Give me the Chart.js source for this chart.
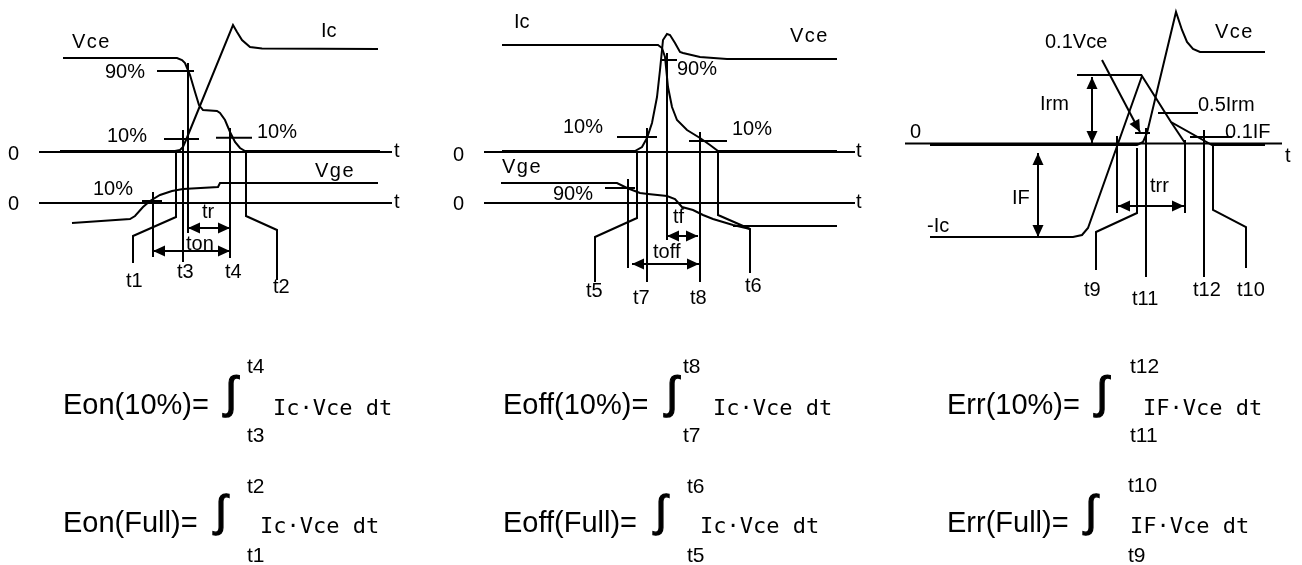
<!DOCTYPE html>
<html><head><meta charset="utf-8">
<script src="https://cdn.jsdelivr.net/npm/chart.js@4.4.1/dist/chart.umd.min.js"></script>
<style>html,body{margin:0;padding:0;background:#fff;}#wrap{width:1302px;height:565px;}</style>
</head><body><div id="wrap"><canvas id="c" width="1302" height="565"></canvas></div>
<script>
// ===== Panel 1 : turn-on waveforms =====
const onAxisTop = [[39,152],[392,152]];
const onAxisBot = [[39,203],[392,203]];
const onIc  = [[60,151],[175,151],[180,150],[183,147],[186,140],[233,25],[237,32],[242,40],[250,47],[262,48.5],[378,49]];
const onVce = [[63,58],[177,58],[182,60],[185,63],[190,75],[195,92],[199,105],[203,110],[217,111],[220,113],[225,120],[230,132],[235,142],[240,148],[245,151],[380,151]];
const onVge = [[72,223],[130,219],[135,216],[143,207],[150,201],[160,195],[172,191],[183,189],[218,187],[220,183],[378,183]];
const onMarks = [
  [[157,71],[194,71]], [[188,63],[188,233]],
  [[164,139],[199,139]], [[183,130],[183,262]],
  [[216,137.7],[252,137.7]], [[230,128],[230,258]],
  [[142,201],[162,201]], [[153,192],[153,257]],
  [[176,151],[176,217],[133,236],[133,263]],
  [[246,151],[246,216],[277,230],[277,280]]
];
// ===== Panel 2 : turn-off waveforms =====
const offAxisTop = [[484,152],[855,152]];
const offAxisBot = [[484,203],[855,203]];
const offIc  = [[502,45],[658,45],[662,48],[665,57],[668,87],[672,107],[677,120],[687,130],[700,138],[710,145],[718,151],[837,151]];
const offVce = [[502,151],[635,151],[642,147],[647,138],[652,123],[657,97],[660,70],[663,40],[667,34],[670,35],[675,43],[680,52],[683,53],[700,57],[727,59],[837,59]];
const offVge = [[501,183],[617,183],[627,188],[640,193],[648,194],[667,196],[675,199],[682,207],[693,210],[703,215],[713,219],[733,225],[750,229]];
const offVgeLow = [[733,226],[837,226]];
const offMarks = [
  [[662,60],[677,60]], [[667,53],[667,240]],
  [[617,137],[657,137]], [[647,128],[647,282]],
  [[689,141],[727,141]], [[700,132],[700,282]],
  [[605,188],[635,188]], [[628,179],[628,268]],
  [[637,152],[637,218],[595,237],[595,282]],
  [[718,152],[718,215],[750,229],[750,273]]
];
// ===== Panel 3 : diode reverse recovery =====
const rrAxis = [[905,143.5],[1282,143.5]];
const rrIF  = [[930,237],[1073,237],[1082,235],[1088,228],[1142,76],[1171,122],[1212,145],[1265,145]];
const rrExtrap = [[1171,122],[1185,143]];
const rrVce = [[930,145],[1137,145],[1143,142],[1147,133],[1176,12],[1182,30],[1187,42],[1193,49],[1200,52],[1265,52]];
const rrMarks = [
  [[1077,75],[1142,75]],
  [[1135,133],[1150,133]], [[1146,128],[1146,277]],
  [[1158,113],[1198,113]],
  [[1190,137],[1232,137]], [[1204,130],[1204,277]],
  [[1117,136],[1117,213]], [[1185,140],[1185,213]],
  [[1137,148],[1137,213],[1096,232],[1096,270]],
  [[1213,145],[1213,210],[1246,227],[1246,268]]
];
// arrows: x1,y1,x2,y2,doubleHeaded
const arrows = [
  [188,228,230,228,1],[153,251,230,251,1],
  [667,236,698,236,1],[632,264,699,264,1],
  [1092,77,1092,143,1],[1038,153,1038,237,1],[1118,206,1184,206,1],
  [1102,60,1140,132,0]
];
// diagram labels
const labels = [
  ["Vce",72,48],["Ic",321,37],["90%",105,78],["10%",107,142],["10%",257,138],
  ["0",8,160],["0",8,210],["t",394,157],["t",394,208],["Vge",315,177],["10%",93,195],
  ["tr",202,218],["ton",186,250],["t1",126,287],["t3",177,278],["t4",225,278],["t2",273,293],
  ["Ic",514,28],["Vce",790,42],["90%",677,75],["10%",563,133],["10%",732,135],
  ["0",453,161],["0",453,210],["t",856,157],["t",856,208],["Vge",502,173],["90%",553,200],
  ["tf",673,223],["toff",653,258],["t5",586,297],["t7",633,304],["t8",690,304],["t6",745,292],
  ["Vce",1215,38],["0.1Vce",1045,48],["Irm",1040,110],["0.5Irm",1198,111],["0.1IF",1225,138],
  ["0",910,138],["t",1285,162],["IF",1012,204],["-Ic",927,232],["trr",1150,192],
  ["t9",1084,296],["t11",1132,305],["t12",1193,296],["t10",1237,296]
];
// formulas
const formulaNames = [
  ["Eon(10%)=",63,414],["Eon(Full)=",63,532],
  ["Eoff(10%)=",503,414],["Eoff(Full)=",503,532],
  ["Err(10%)=",947,414],["Err(Full)=",947,532]
];
const formulaLimits = [
  ["t4",247,373],["t3",247,442],["t2",247,493],["t1",247,562],
  ["t8",683,373],["t7",683,442],["t6",687,493],["t5",687,562],
  ["t12",1130,373],["t11",1130,442],["t10",1128,492],["t9",1128,562]
];
const formulaBodies = [
  ["Ic·Vce dt",273,415],["Ic·Vce dt",260,533],
  ["Ic·Vce dt",713,415],["Ic·Vce dt",700,533],
  ["IF·Vce dt",1143,415],["IF·Vce dt",1130,533]
];
const integrals = [[222,375,418],[212,493,535],[663,375,418],[652,493,535],[1093,375,418],[1082,493,535]];

const allLines = [onAxisTop,onAxisBot,onIc,onVce,onVge,...onMarks,
  offAxisTop,offAxisBot,offIc,offVce,offVge,offVgeLow,...offMarks,
  rrAxis,rrIF,rrExtrap,rrVce,...rrMarks];

const toPts = a => a.map(([x,y])=>({x,y}));
const datasets = allLines.map(l=>({data:toPts(l),showLine:true,borderColor:'#000',borderWidth:2,pointRadius:0,tension:0,fill:false}));
for (const [x1,y1,x2,y2] of arrows) datasets.push({data:toPts([[x1,y1],[x2,y2]]),showLine:true,borderColor:'#000',borderWidth:2,pointRadius:0,fill:false});

const annot = {
  id:'annot',
  afterDatasetsDraw(chart){
    const {ctx} = chart; const xs = chart.scales.x, ys = chart.scales.y;
    const X = v=>xs.getPixelForValue(v), Y = v=>ys.getPixelForValue(v);
    ctx.save();
    ctx.fillStyle='#000'; ctx.strokeStyle='#000';
    const head=(tx,ty,fx,fy)=>{
      const dx=tx-fx, dy=ty-fy, L=Math.hypot(dx,dy), ux=dx/L, uy=dy/L;
      const len=12, w=5.5;
      ctx.beginPath();
      ctx.moveTo(tx,ty);
      ctx.lineTo(tx-ux*len-uy*w, ty-uy*len+ux*w);
      ctx.lineTo(tx-ux*len+uy*w, ty-uy*len-ux*w);
      ctx.closePath(); ctx.fill();
    };
    for (const [x1,y1,x2,y2,both] of arrows){
      head(X(x2),Y(y2),X(x1),Y(y1));
      if (both) head(X(x1),Y(y1),X(x2),Y(y2));
    }
    ctx.textBaseline='alphabetic'; ctx.textAlign='left';
    ctx.font='20px "Liberation Sans", Arial, sans-serif';
    for (const [t,x,y] of labels){
      ctx.letterSpacing = t.startsWith('V') ? '1.5px' : '0px';
      ctx.fillText(t,X(x),Y(y));
    }
    ctx.letterSpacing='0px';
    ctx.font='29px "Liberation Sans", Arial, sans-serif';
    for (const [t,x,y] of formulaNames) ctx.fillText(t,X(x),Y(y));
    ctx.font='21px "Liberation Sans", Arial, sans-serif';
    for (const [t,x,y] of formulaLimits) ctx.fillText(t,X(x),Y(y));
    ctx.font='22px "DejaVu Sans Mono", monospace';
    for (const [t,x,y] of formulaBodies) ctx.fillText(t,X(x),Y(y));
    ctx.font='100px "Liberation Sans", Arial, sans-serif';
    const m=ctx.measureText('∫'); const h=m.actualBoundingBoxAscent+m.actualBoundingBoxDescent;
    ctx.lineWidth=1.2;
    for (const [x,top,bot] of integrals){
      const px=(Y(bot)-Y(top))/h*100;
      ctx.font=px.toFixed(2)+'px "Liberation Sans", Arial, sans-serif';
      const mm=ctx.measureText('∫');
      const gx=X(x)+mm.actualBoundingBoxLeft, gy=Y(top)+mm.actualBoundingBoxAscent;
      ctx.fillText('∫',gx,gy);
      ctx.strokeText('∫',gx,gy);
    }
    ctx.restore();
  }
};

new Chart(document.getElementById('c'),{
  type:'scatter',
  data:{datasets},
  options:{
    responsive:false, animation:false, devicePixelRatio:1, events:[],
    layout:{padding:0},
    plugins:{legend:{display:false},tooltip:{enabled:false},title:{display:false}},
    scales:{
      x:{type:'linear',min:0,max:1302,display:false},
      y:{type:'linear',min:0,max:565,reverse:true,display:false}
    }
  },
  plugins:[annot]
});
</script></body></html>
